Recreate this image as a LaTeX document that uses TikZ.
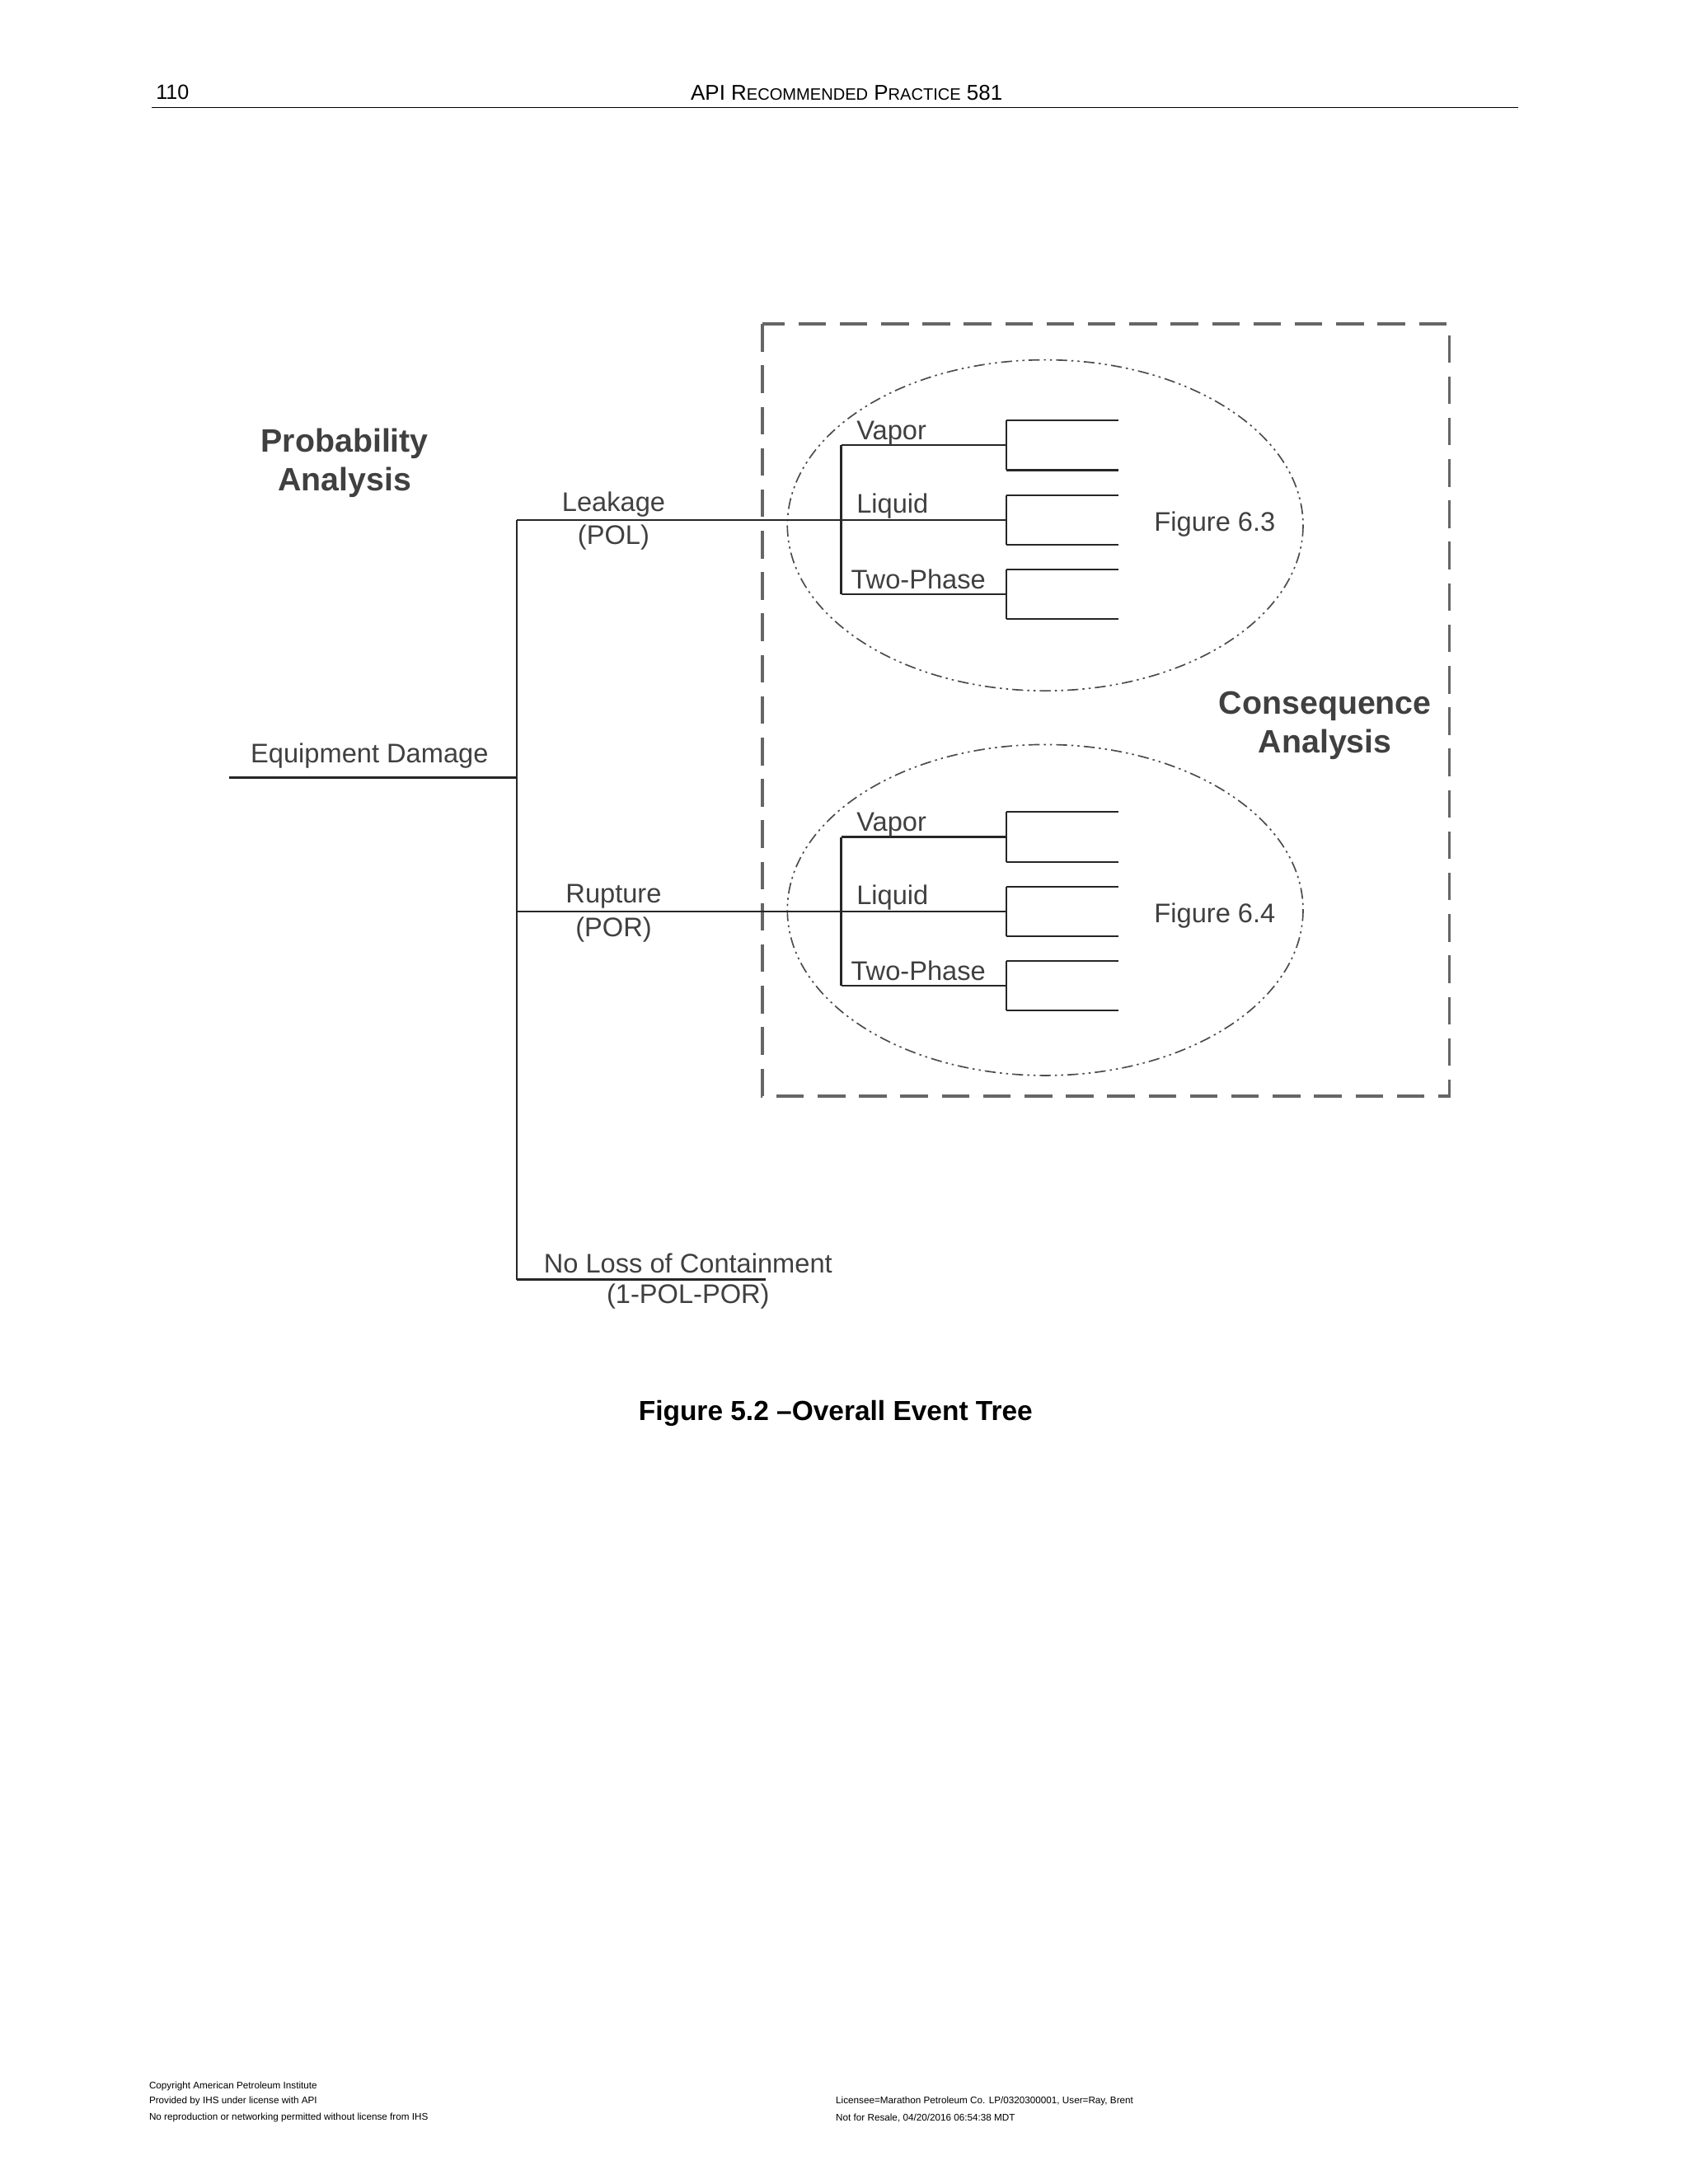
\documentclass[tikz,border=0pt]{standalone}
\usepackage{fontspec}
\setmainfont{Liberation Sans}
\begin{document}
\begin{tikzpicture}[x=1pt,y=-1pt,
  ln/.style={line width=1.3pt,black!85},
  lbl/.style={font=\fontsize{19.5}{21}\selectfont,text=black!75,inner sep=0},
  big/.style={font=\fontsize{23.5}{25}\selectfont\bfseries,text=black!75,inner sep=0},
  foot/.style={font=\fontsize{7}{8}\selectfont,anchor=west,inner sep=0}]
\useasboundingbox (0,0) rectangle (1224,1584);
% header
\node[anchor=west,inner sep=0,font=\fontsize{15}{17}\selectfont] (pg) at (113,67) {110};
\node[inner sep=0,font=\fontsize{15.5}{17}\selectfont] (hd) at (614,67) {API R{\fontsize{12}{14}\selectfont ECOMMENDED} P{\fontsize{12}{14}\selectfont RACTICE} 581};
\draw[line width=0.8pt] (110,78) -- (1101,78);
% dashed box and ellipses
\draw[line width=2pt,black!60,dash pattern=on 20pt off 10pt] (553,235) rectangle (1051,795);
\draw[line width=1pt,black!70,dash pattern=on 8pt off 3pt on 1.5pt off 3pt on 1.5pt off 3pt] (758,381) ellipse (187 and 120);
\draw[line width=1pt,black!70,dash pattern=on 8pt off 3pt on 1.5pt off 3pt on 1.5pt off 3pt] (758,660) ellipse (187 and 120);
% main tree
\coordinate (ed0) at (166,564); \coordinate (ed1) at (375,564);
\draw[ln] (ed0) -- (ed1);
\draw[ln] (375,377) -- (375,928);
\draw[ln] (375,377) -- (610,377);
\draw[ln] (375,661) -- (610,661);
\draw[ln] (375,928) -- (555,928);
\node[lbl] (ed) at (268,548) {Equipment Damage};
\node[lbl] (lk) at (445,366) {Leakage};
\node[lbl] (pol) at (445,390) {(POL)};
\node[lbl] (rp) at (445,650) {Rupture};
\node[lbl] (por) at (445,674) {(POR)};
\node[lbl] (nl) at (499,916) {No Loss of Containment};
\node[lbl] (nlp) at (499,940) {(1-POL-POR)};
\node[big] (pa1) at (250,322) {Probability};
\node[big] (pa2) at (250,350) {Analysis};
\node[big] (ca1) at (961,512) {Consequence};
\node[big] (ca2) at (961,540) {Analysis};
% subtrees
\foreach \y/\f in {377/6.3,661/6.4}{
  \draw[ln] (610,\y-54) -- (610,\y+54);
  \foreach \d in {-54,0,54}{
    \draw[ln] (610,\y+\d) -- (730,\y+\d);
    \draw[ln] (730,\y+\d-18) -- (730,\y+\d+18);
    \draw[ln] (730,\y+\d-18) -- (811,\y+\d-18);
    \draw[ln] (730,\y+\d+18) -- (811,\y+\d+18);
  }
  \node[lbl,anchor=west] at (621,\y-63) {Vapor};
  \node[lbl,anchor=west] at (621,\y-10) {Liquid};
  \node[lbl,anchor=west] at (617,\y+43) {Two-Phase};
  \node[lbl] at (881,\y+3) {Figure \f};
}
\node[inner sep=0,font=\fontsize{20}{22}\selectfont\bfseries] (cap) at (606,1025) {Figure 5.2 –Overall Event Tree};
% footer
\node[foot] at (108,1513) {Copyright American Petroleum Institute};
\node[foot] at (108,1524) {Provided by IHS under license with API};
\node[foot] at (108,1536) {No reproduction or networking permitted without license from IHS};
\node[foot] at (606,1524) {Licensee=Marathon Petroleum Co. LP/0320300001, User=Ray, Brent};
\node[foot] at (606,1536) {Not for Resale, 04/20/2016 06:54:38 MDT};
\end{tikzpicture}
\end{document}
